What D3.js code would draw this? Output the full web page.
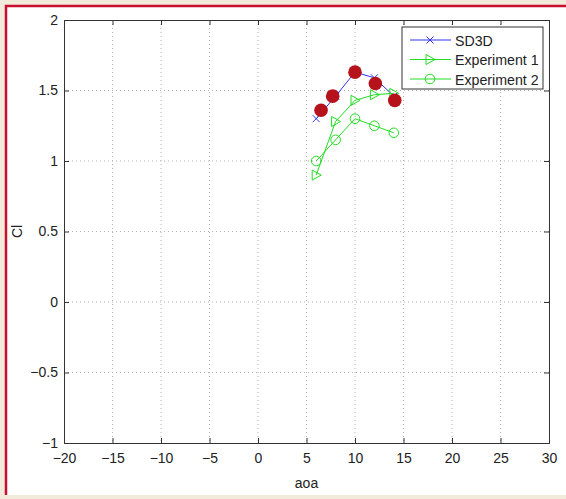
<!DOCTYPE html>
<html lang="en">
<head>
<meta charset="UTF-8">
<title>Cl vs aoa</title>
<script src="https://cdn.jsdelivr.net/npm/d3@7"></script>
<style>
    body { margin: 0; background: #f2eadb; }
    svg { display: block; }
    text { font-family: "Liberation Sans", Arial, sans-serif; fill: #222; }
</style>
</head>
<body>
<svg id="chart" width="566" height="499"></svg>
<script>
    // data
    var sd3dAoa = [6, 8, 10, 12, 14];
    var sd3dCl = [1.30, 1.46, 1.63, 1.59, 1.46];
    var exp1Aoa = [6, 8, 10, 12, 14];
    var exp1Cl = [0.90, 1.28, 1.43, 1.47, 1.48];
    var exp2Aoa = [6, 8, 10, 12, 14];
    var exp2Cl = [1.00, 1.15, 1.30, 1.25, 1.20];
    var dotAoa = [6.5, 7.7, 10, 12.1, 14.1];
    var dotCl = [1.36, 1.46, 1.63, 1.55, 1.43];
    var xTicks = [-20, -15, -10, -5, 0, 5, 10, 15, 20, 25, 30];
    var yTicks = [-1, -0.5, 0, 0.5, 1, 1.5, 2];
    var legendNames = ["SD3D", "Experiment 1", "Experiment 2"];

    var svg = d3.select("#chart");

    // page frame: white sheet with red edge on the left and top
    svg.append("rect").attr("x", 6).attr("y", 6).attr("width", 560).attr("height", 489).attr("fill", "#fff");
    svg.append("path").attr("d", "M6,495V6H566").attr("fill", "none")
        .attr("stroke", "#c8102e").attr("stroke-width", 2.5);

    var pL = 64, pR = 549, pT = 20, pB = 443;
    var x = d3.scaleLinear().domain([-20, 30]).range([pL, pR]);
    var y = d3.scaleLinear().domain([-1, 2]).range([pB, pT]);

    // grid
    var grid = svg.append("g").attr("stroke", "#b4b4b4").attr("stroke-width", 1)
        .attr("stroke-dasharray", "1,3");
    xTicks.slice(1, -1).forEach(function (t) {
        grid.append("line").attr("x1", x(t)).attr("x2", x(t)).attr("y1", pT).attr("y2", pB);
    });
    yTicks.slice(1, -1).forEach(function (t) {
        grid.append("line").attr("y1", y(t)).attr("y2", y(t)).attr("x1", pL).attr("x2", pR);
    });

    function fmt(d) { return String(d).replace("-", "\u2212"); }

    // axes with inward ticks, box style
    var xb = svg.append("g").attr("transform", "translate(0," + pB + ")")
        .call(d3.axisBottom(x).tickValues(xTicks).tickSize(-5).tickPadding(10).tickFormat(fmt));
    var xt = svg.append("g").attr("transform", "translate(0," + pT + ")")
        .call(d3.axisTop(x).tickValues(xTicks).tickSize(-5).tickFormat(""));
    var yl = svg.append("g").attr("transform", "translate(" + pL + ",0)")
        .call(d3.axisLeft(y).tickValues(yTicks).tickSize(-5).tickPadding(6).tickFormat(fmt));
    var yr = svg.append("g").attr("transform", "translate(" + pR + ",0)")
        .call(d3.axisRight(y).tickValues(yTicks).tickSize(-5).tickFormat(""));
    [xb, xt, yl, yr].forEach(function (g) {
        g.selectAll("path,line").attr("stroke", "#333").attr("stroke-width", 1);
        g.selectAll("text").attr("font-size", 14).attr("fill", "#222")
            .attr("font-family", "'Liberation Sans', Arial, sans-serif");
    });

    svg.append("text").attr("x", (pL + pR) / 2).attr("y", 488).attr("text-anchor", "middle")
        .attr("font-size", 14).text("aoa");
    svg.append("text").attr("transform", "translate(22," + ((pT + pB) / 2) + ") rotate(-90)")
        .attr("text-anchor", "middle").attr("font-size", 14).text("Cl");

    var line = d3.line().x(function (d) { return x(d[0]); }).y(function (d) { return y(d[1]); });
    var blue = "#3333ee", green = "#22dd22", red = "#b5121b";

    function series(aoa, cl, color, marker) {
        var pts = d3.zip(aoa, cl);
        svg.append("path").datum(pts).attr("d", line).attr("fill", "none")
            .attr("stroke", color).attr("stroke-width", 1);
        pts.forEach(function (p) { marker(x(p[0]), y(p[1]), color); });
    }
    function cross(cx, cy, c) {
        svg.append("path").attr("d", "M" + (cx - 3.5) + "," + (cy - 3.5) + "L" + (cx + 3.5) + "," + (cy + 3.5) +
            "M" + (cx - 3.5) + "," + (cy + 3.5) + "L" + (cx + 3.5) + "," + (cy - 3.5))
            .attr("stroke", c).attr("stroke-width", 1);
    }
    function tri(cx, cy, c) {
        svg.append("path").attr("d", "M" + (cx - 4) + "," + (cy - 5) + "L" + (cx + 5) + "," + cy +
            "L" + (cx - 4) + "," + (cy + 5) + "Z").attr("fill", "none").attr("stroke", c).attr("stroke-width", 1);
    }
    function circ(cx, cy, c) {
        svg.append("circle").attr("cx", cx).attr("cy", cy).attr("r", 4.8)
            .attr("fill", "none").attr("stroke", c).attr("stroke-width", 1);
    }

    series(sd3dAoa, sd3dCl, blue, cross);
    series(exp1Aoa, exp1Cl, green, tri);
    series(exp2Aoa, exp2Cl, green, circ);

    svg.append("g").selectAll("circle").data(d3.zip(dotAoa, dotCl)).join("circle")
        .attr("cx", function (d) { return x(d[0]); }).attr("cy", function (d) { return y(d[1]); })
        .attr("r", 6.8).attr("fill", red);

    // legend
    var lg = svg.append("g");
    lg.append("rect").attr("x", 402).attr("y", 27).attr("width", 141).attr("height", 62)
        .attr("fill", "#fff").attr("stroke", "#333").attr("stroke-width", 1);
    var markers = [cross, tri, circ], colors = [blue, green, green];
    legendNames.forEach(function (name, i) {
        var ly = 40 + i * 19.5;
        lg.append("line").attr("x1", 410).attr("x2", 451).attr("y1", ly).attr("y2", ly)
            .attr("stroke", colors[i]).attr("stroke-width", 1);
        markers[i](430, ly, colors[i]);
        lg.append("text").attr("x", 455).attr("y", ly + 5.5).attr("font-size", 14.2).text(name);
    });
</script>
</body>
</html>
